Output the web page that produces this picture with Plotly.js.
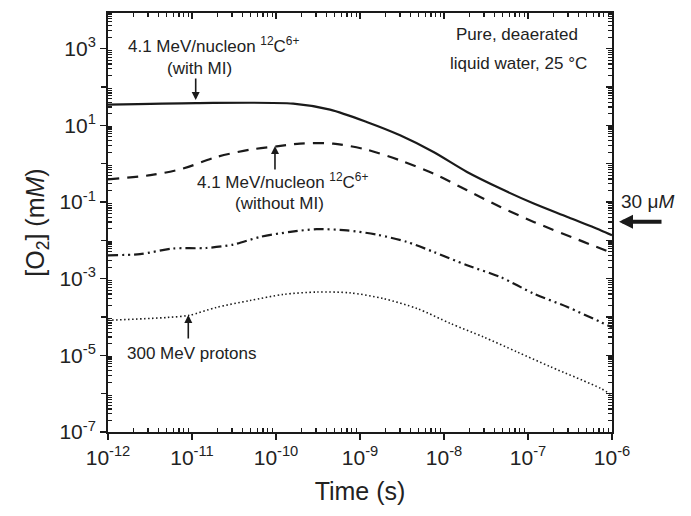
<!DOCTYPE html>
<html>
<head>
<meta charset="utf-8">
<script src="https://cdn.plot.ly/plotly-3.0.1.min.js"></script>
<style>html,body{margin:0;padding:0;background:#fff;}#chart{width:691px;height:516px;}</style>
</head>
<body>
<div id="chart"></div>
<script>
// ---- Data (time in s, [O2] in mM) ----
const withMI_t = [1e-12, 1.12e-11, 1.6e-10, 4.4e-10, 1.2e-9, 3.0e-9, 7.5e-9, 1.88e-8, 4.7e-8, 1.17e-7, 2.95e-7, 7.3e-7, 1e-6];
const withMI_c = [34.7, 38.0, 36.8, 25.6, 12.2, 5.48, 2.01, 0.607, 0.224, 0.0912, 0.0407, 0.0183, 0.0135];

const withoutMI_t = [1e-12, 3.2e-12, 7.8e-12, 1.95e-11, 4.9e-11, 1.02e-10, 1.93e-10, 4.8e-10, 1.2e-9, 3.0e-9, 7.5e-9, 1.88e-8, 4.7e-8, 1.17e-7, 4.6e-7, 1e-6];
const withoutMI_c = [0.391, 0.50, 0.743, 1.49, 2.32, 2.83, 3.33, 3.33, 2.32, 1.22, 0.55, 0.202, 0.0741, 0.0302, 0.00912, 0.00468];

const third_t = [1e-12, 2.4e-12, 5.9e-12, 1.48e-11, 3.1e-11, 6.5e-11, 1.48e-10, 3.05e-10, 7.0e-10, 1.58e-9, 3.6e-9, 7.5e-9, 1.88e-8, 4.7e-8, 1.17e-7, 2.95e-7, 7.3e-7, 1e-6];
const third_c = [0.00407, 0.00437, 0.0061, 0.0063, 0.00776, 0.0123, 0.0166, 0.0195, 0.0182, 0.0141, 0.00912, 0.005, 0.00224, 0.0011, 0.000407, 0.000182, 7.4e-5, 5.4e-5];

const protons_t = [1e-12, 5e-12, 9.3e-12, 1.95e-11, 4.9e-11, 1.23e-10, 3.05e-10, 7.6e-10, 1.9e-9, 4.8e-9, 1.19e-8, 2.97e-8, 7.4e-8, 1.86e-7, 7.3e-7, 1e-6];
const protons_c = [8.2e-5, 9.7e-5, 1.11e-4, 1.78e-4, 2.69e-4, 3.89e-4, 4.47e-4, 4.27e-4, 3.02e-4, 1.66e-4, 6.8e-5, 3.0e-5, 1.23e-5, 5.0e-6, 1.38e-6, 9.1e-7];

// ---- Ticks ----
const xTickVals = [1e-12, 1e-11, 1e-10, 1e-9, 1e-8, 1e-7, 1e-6];
const xTickText = ['10<sup>-12</sup>', '10<sup>-11</sup>', '10<sup>-10</sup>', '10<sup>-9</sup>', '10<sup>-8</sup>', '10<sup>-7</sup>', '10<sup>-6</sup>'];
const yTickVals = [1e-7, 1e-5, 1e-3, 1e-1, 10, 1000];
const yTickText = ['10<sup>-7</sup>', '10<sup>-5</sup>', '10<sup>-3</sup>', '10<sup>-1</sup>', '10<sup>1</sup>', '10<sup>3</sup>'];
const yUnlabeledDecades = [1e-6, 1e-4, 1e-2, 1, 100];
const yAllDecades = [1e-7, 1e-6, 1e-5, 1e-4, 1e-3, 1e-2, 1e-1, 1, 10, 100, 1000];
const minorMult = [2, 3, 4, 5, 6, 7, 8, 9];
const xMinorDecades = [1e-12, 1e-11, 1e-10, 1e-9, 1e-8, 1e-7];

const xMinor = [];
xMinorDecades.forEach(d => minorMult.forEach(m => xMinor.push(d * m)));
const yMinor = [];
yAllDecades.forEach(d => minorMult.forEach(m => { if (d * m < 8500) yMinor.push(d * m); }));

const X_RANGE = [-12, -6];
const Y_RANGE = [-7, 3.93];
const ink = '#1a1a1a';
const FONT = '"Liberation Sans", Arial, sans-serif';

const base = {mode: 'lines', hoverinfo: 'skip', showlegend: false, xaxis: 'x', yaxis: 'y'};
const traces = [
  Object.assign({}, base, {x: withMI_t, y: withMI_c, line: {color: ink, width: 2.2, shape: 'spline', smoothing: 0.8}}),
  Object.assign({}, base, {x: withoutMI_t, y: withoutMI_c, line: {color: ink, width: 2.2, dash: '11px,8px', shape: 'spline', smoothing: 0.8}}),
  Object.assign({}, base, {x: third_t, y: third_c, line: {color: ink, width: 2.2, dash: '10px,4px,2px,4px,2px,4px', shape: 'spline', smoothing: 0.8}}),
  Object.assign({}, base, {x: protons_t, y: protons_c, line: {color: ink, width: 1.6, dash: '1.5px,2.5px', shape: 'spline', smoothing: 0.8}}),
  // empty helper traces so the overlay tick axes are drawn
  {x: [], y: [], xaxis: 'x2', yaxis: 'y2', mode: 'lines', showlegend: false, hoverinfo: 'skip'},
  {x: [], y: [], xaxis: 'x', yaxis: 'y3', mode: 'lines', showlegend: false, hoverinfo: 'skip'}
];

const tickFont = {family: FONT, size: 21, color: '#222'};
const annFont = {family: FONT, size: 17, color: '#222'};

function ann(text, x, y, extra) {
  return Object.assign({xref: 'paper', yref: 'paper', x: x, y: y, text: text, showarrow: false,
    font: annFont, xanchor: 'center', yanchor: 'middle'}, extra || {});
}
function arrow(x, y, ax, ay, w, size) {
  return {xref: 'paper', yref: 'paper', x: x, y: y, ax: ax, ay: ay, text: '', showarrow: true,
    arrowhead: 2, arrowsize: size || 1, arrowwidth: w || 1.6, arrowcolor: ink, standoff: 0};
}

const layout = {
  width: 691, height: 516,
  margin: {l: 108, r: 79, t: 13, b: 84, pad: 0},
  paper_bgcolor: '#fff', plot_bgcolor: '#fff',
  xaxis: {
    type: 'log', range: X_RANGE, autorange: false,
    tickmode: 'array', tickvals: xTickVals, ticktext: xTickText,
    ticks: 'outside', ticklen: 6, tickwidth: 1.5, tickcolor: ink,
    minor: {tickmode: 'array', tickvals: xMinor, ticks: 'inside', ticklen: 4, tickwidth: 1.2, tickcolor: ink, showgrid: false},
    showline: true, linecolor: ink, linewidth: 2, mirror: true,
    showgrid: false, zeroline: false, tickfont: tickFont,
    title: {text: 'Time (s)', font: {family: FONT, size: 25, color: '#222'}, standoff: 14}
  },
  yaxis: {
    type: 'log', range: Y_RANGE, autorange: false,
    tickmode: 'array', tickvals: yTickVals, ticktext: yTickText,
    ticks: 'outside', ticklen: 6, tickwidth: 1.5, tickcolor: ink,
    minor: {tickmode: 'array', tickvals: yMinor, ticks: 'inside', ticklen: 4, tickwidth: 1.2, tickcolor: ink, showgrid: false},
    showline: true, linecolor: ink, linewidth: 2, mirror: true,
    showgrid: false, zeroline: false, tickfont: tickFont,
    title: {text: '[O<sub>2</sub>] (m<i>M</i>)', font: {family: FONT, size: 25, color: '#222'}, standoff: 8}
  },
  yaxis3: {
    type: 'log', range: Y_RANGE, autorange: false, overlaying: 'y', anchor: 'x', side: 'left',
    tickmode: 'array', tickvals: yUnlabeledDecades, showticklabels: false,
    ticks: 'outside', ticklen: 6, tickwidth: 1.5, tickcolor: ink,
    showline: false, showgrid: false, zeroline: false
  },
  xaxis2: {
    type: 'log', range: X_RANGE, autorange: false, overlaying: 'x', anchor: 'y2', side: 'top',
    tickmode: 'array', tickvals: xTickVals, showticklabels: false,
    ticks: 'inside', ticklen: 6, tickwidth: 1.5, tickcolor: ink,
    minor: {tickmode: 'array', tickvals: xMinor, ticks: 'inside', ticklen: 4, tickwidth: 1.2, tickcolor: ink, showgrid: false},
    showline: false, showgrid: false, zeroline: false
  },
  yaxis2: {
    type: 'log', range: Y_RANGE, autorange: false, overlaying: 'y', anchor: 'x2', side: 'right',
    tickmode: 'array', tickvals: yAllDecades, showticklabels: false,
    ticks: 'inside', ticklen: 6, tickwidth: 1.5, tickcolor: ink,
    minor: {tickmode: 'array', tickvals: yMinor, ticks: 'inside', ticklen: 4, tickwidth: 1.2, tickcolor: ink, showgrid: false},
    showline: false, showgrid: false, zeroline: false
  },
  annotations: [
    ann('4.1 MeV/nucleon <sup>12</sup>C<sup>6+</sup>', 0.2103, 0.9236),
    ann('(with MI)', 0.1806, 0.868),
    arrow(0.174, 0.7924, 0, -23),
    ann('Pure, deaerated', 0.8115, 0.9475),
    ann('liquid water, 25 °C', 0.8135, 0.88),
    ann('4.1 MeV/nucleon <sup>12</sup>C<sup>6+</sup>', 0.347, 0.5995),
    ann('(without MI)', 0.341, 0.5455),
    arrow(0.3313, 0.6826, 0, 25),
    ann('300 MeV protons', 0.1647, 0.1862),
    arrow(0.1593, 0.2792, 0, 25),
    ann('30 μ<i>M</i>', 1.0714, 0.5496, {font: {family: FONT, size: 19, color: '#222'}}),
    arrow(1.0139, 0.5019, 44, 0, 4, 0.7)
  ]
};

Plotly.newPlot('chart', traces, layout, {staticPlot: true, displayModeBar: false});
</script>
</body>
</html>
